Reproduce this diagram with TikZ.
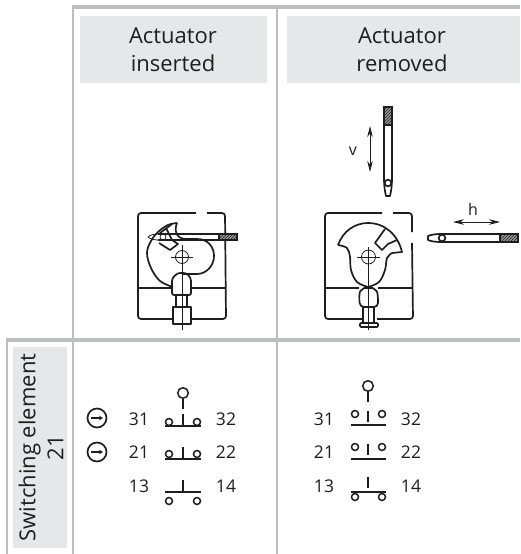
\documentclass[tikz,border=0pt]{standalone}
\usepackage{fontspec}
\setmainfont{Open Sans}
\usetikzlibrary{positioning,arrows.meta,patterns}
\definecolor{rulegray}{HTML}{BCBEC0}
\definecolor{headgray}{HTML}{E6E7E8}
\definecolor{inkgray}{HTML}{1E1E1E}
\tikzset{
    head/.style={font=\fontsize{22}{28}\selectfont, text=inkgray, align=center},
    num/.style={font=\fontsize{17.5}{20}\selectfont, text=inkgray, anchor=base},
    letter/.style={font=\fontsize{16}{18}\selectfont, text=inkgray, anchor=base},
    rule/.style={draw=rulegray, line width=1.7pt},
    rulethick/.style={draw=rulegray, line width=3.2pt},
    part/.style={draw=inkgray, line width=1.7pt, line join=round},
    thin part/.style={draw=inkgray, line width=0.8pt},
    contact/.style={draw=inkgray, line width=1.5pt, fill=white},
    hatched/.style={draw=inkgray, line width=1.2pt, preaction={fill=inkgray!45}, pattern=north east lines, pattern color=inkgray},
    double arrow/.style={draw=inkgray, line width=0.8pt, {Stealth[length=11pt,width=5.5pt]}-{Stealth[length=11pt,width=5.5pt]}},
}
\begin{document}
\begin{tikzpicture}[x=1pt, y=-1pt]
    \useasboundingbox (0,0) rectangle (520,554);

    % cells
    \fill[headgray] (80,16) rectangle (267,83);
    \fill[headgray] (287,16) rectangle (520,83);
    \fill[headgray] (13,347) rectangle (67,548);

    % table rules
    \draw[rule] (73,7) -- (73,554);
    \draw[rule] (277,7) -- (277,554);
    \draw[rule] (7,340) -- (7,554);
    \draw[rulethick] (72.2,7) -- (520,7);
    \draw[rulethick] (6.2,340) -- (520,340);

    \node[head] (inserted) at (173,49.5) {Actuator\\inserted};
    \node[head] (removed) at (402,49.5) {Actuator\\removed};
    \node[head, rotate=90] (element) at (41,447.5) {Switching element\\21};

    % left mechanism
    \draw[part, rounded corners=3pt] (196,213) -- (138,213) -- (138,319) -- (173,319);
    \draw[part, rounded corners=3pt] (207,213) -- (225,213) -- (226,319) -- (191,319);
    \draw[part] (138,288) -- (172,288) (192,288) -- (226,288);
    \draw[part] plot[smooth, tension=0.6] coordinates {(173,287) (160,281) (151,268) (147,253) (151,241) (158,232) (168,225) (177,223)};
    \draw[part] (177,223) .. controls (174,230) and (176,239) .. (186,239) -- (197,239) .. controls (208,239) and (214,247) .. (214,256) .. controls (214,266) and (206,274) .. (197,274) -- (182,274);
    \draw[part] (166,228) -- (172,240) -- (178,244) -- (170,250) -- (159,243);
    \draw[part] (160,233) -- (172,224);
    \draw[part, rounded corners=2pt] (172,295) -- (172,283) .. controls (172,277) and (177,273) .. (182,273) .. controls (187,273) and (191,277) .. (191,283) -- (191,295) -- cycle;
    \draw[part] (176,295) -- (176,307) (187,295) -- (187,307);
    \draw[part] (173,307) rectangle (191,324);
    \draw[thin part] (182,245) -- (182,330);
    \draw[thin part] (171,257) -- (193,257);
    \draw[thin part] (182,257) circle[radius=6.5];
    % left actuator
    \draw[part] (219,234) -- (158,234) (219,240) -- (158,240);
    \draw[thin part] (158,234) .. controls (154,234) and (150,235) .. (148,237) .. controls (150,239) and (154,240) .. (158,240);
    \draw[thin part] (163,237) circle[radius=3];
    \draw[hatched] (219,234) rectangle (237,240);

    % right mechanism
    \draw[part, rounded corners=3pt] (382,213) -- (325,213) -- (325,319) -- (362,319);
    \draw[part, rounded corners=3pt] (393,213) -- (412,213) -- (412,232);
    \draw[part, rounded corners=3pt] (412,243) -- (413,319) -- (377,319);
    \draw[part] (325,288) -- (359,288) (378,288) -- (413,288);
    \draw[part] plot[smooth, tension=0.6] coordinates {(368,287) (357,282) (351,270) (350,257) (347,248) (338,245)};
    \draw[part] (338,245) .. controls (343,231) and (355,223) .. (368,223) .. controls (385,223) and (398,235) .. (402,252) -- (392,253);
    \draw[part] plot[smooth, tension=0.6] coordinates {(392,253) (387,258) (385,270) (379,282) (368,287)};
    \draw[part] (385,229) -- (375,243) -- (382,250) -- (388,244) -- (397,240);
    \draw[part, rounded corners=4pt] (360,307) -- (359,296) .. controls (360,291) and (364,288) .. (368.5,288) .. controls (373,288) and (377,291) .. (378,296) -- (378,307) -- cycle;
    \draw[part] (363,307) -- (363,323) (374,307) -- (374,323);
    \draw[part, rounded corners=1pt] (360,323) rectangle (378,327);
    \draw[thin part] (368.5,247) -- (368.5,330);
    \draw[thin part] (357,257) -- (380,257);
    \draw[thin part] (368.5,257) circle[radius=7];

    % vertical actuator
    \draw[hatched] (384,107) rectangle (392,125);
    \draw[part] (384,125) -- (384,178) .. controls (384,186) and (385,192) .. (386,196) -- (390,196) .. controls (391,192) and (392,186) .. (392,178) -- (392,125);
    \draw[part, fill=white] (388,183) circle[radius=3.3];
    \draw[double arrow] (370,126) -- (370,172);
    \node[letter] (v) at (353,155) {v};

    % horizontal actuator
    \draw[hatched] (500,234) rectangle (518,242);
    \draw[part] (500,234) -- (440,234) .. controls (435,234) and (430,235) .. (428,236) -- (428,240) .. controls (430,241) and (435,242) .. (440,242) -- (500,242);
    \draw[part, fill=white] (442,238) circle[radius=3.3];
    \draw[double arrow] (453,222) -- (500,222);
    \node[letter] (h) at (473,215) {h};

    % contact labels
    \foreach \name/\xa/\xb/\ybase/\ya/\yb in {a/139/226/425/31/32, b/139/226/458/21/22, c/139/226/492/13/14, d/324/411/425/31/32, e/324/411/458/21/22, f/324/411/492/13/14} {
        \node[num] (\name1) at (\xa,\ybase) {\ya};
        \node[num] (\name2) at (\xb,\ybase) {\yb};
    }

    % left switching symbols
    \draw[part] (183,398) -- (183,409);
    \draw[contact] (183,393) circle[radius=5.3];
    \draw[part] (165,426) -- (201,426) (183,414) -- (183,426);
    \draw[contact] (169,422) circle[radius=3.5] (197,422) circle[radius=3.5];
    \draw[part] (165,459) -- (201,459) (183,447) -- (183,459);
    \draw[contact] (169,454) circle[radius=3.5] (197,454) circle[radius=3.5];
    \draw[part] (165,492) -- (201,492) (183,480) -- (183,492);
    \draw[contact] (169,501) circle[radius=3.5] (197,501) circle[radius=3.5];

    % right switching symbols
    \draw[part] (368,391) -- (368,402);
    \draw[contact] (368,386) circle[radius=5.3];
    \draw[part] (351,425) -- (386,425) (368,411) -- (368,422);
    \draw[contact] (355,414) circle[radius=3.5] (382,414) circle[radius=3.5];
    \draw[part] (351,459) -- (386,459) (368,444) -- (368,455);
    \draw[contact] (355,447) circle[radius=3.5] (382,447) circle[radius=3.5];
    \draw[part] (351,492) -- (386,492) (368,477) -- (368,488);
    \draw[contact] (355,497) circle[radius=3.5] (382,497) circle[radius=3.5];

    % direct opening marks
    \foreach \ymark in {418,452} {
        \draw[part] (97,\ymark) circle[radius=9.5];
        \draw[draw=inkgray, line width=1.2pt, -{Stealth[length=4pt,width=4.5pt]}] (91,\ymark) -- (103,\ymark);
    }
\end{tikzpicture}
\end{document}
